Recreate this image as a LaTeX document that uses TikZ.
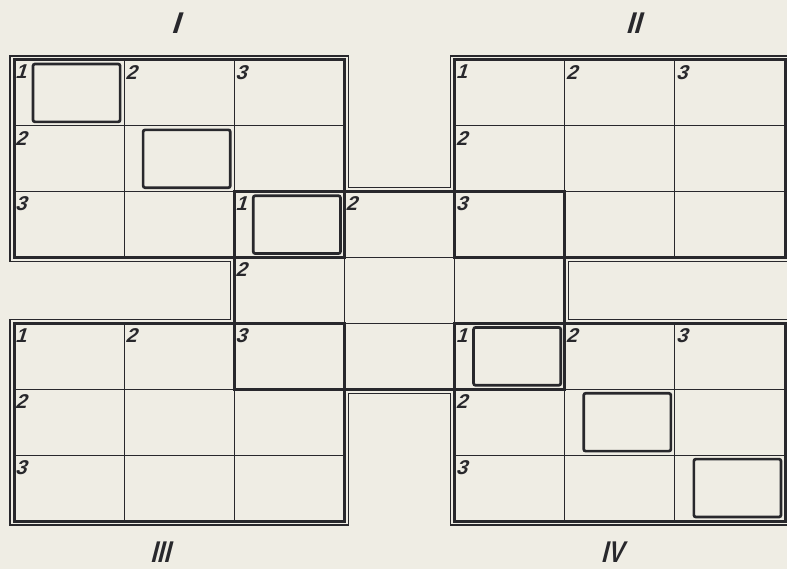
\documentclass[tikz,border=0pt]{standalone}
\usepackage{fontspec}
\setmainfont{Liberation Sans}
\newfontfamily\slantsans{Liberation Sans}[FakeSlant=0.32]
\usetikzlibrary{calc}

\definecolor{paper}{HTML}{EFEDE4}
\definecolor{ink}{HTML}{28282C}

\tikzset{
  cellline/.style   = {draw=ink, line width=0.9pt},
  blockframe/.style = {draw=ink, line width=3pt, line join=miter},
  outerline/.style  = {draw=ink, line width=1.1pt},
  markbox/.style    = {draw=ink, line width=2.7pt, rounded corners=2pt},
  digit/.style      = {anchor=north west, inner sep=0pt, text=ink,
                       font=\fontsize{20}{20}\selectfont\slantsans\bfseries},
  roman/.style      = {inner sep=0pt, text=ink,
                       font=\fontsize{30}{30}\selectfont\slantsans\bfseries}
}

\begin{document}
\begin{tikzpicture}[x=1pt, y=-1pt]

  % ── Paper ─────────────────────────────────────────────────────────────────
  \useasboundingbox (0,0) rectangle (787,569);
  \fill[paper] (0,0) rectangle (787,569);
  \clip (0,0) rectangle (787,569);

  % ── Thin outline round the five squares ───────────────────────────────────
  \draw[outerline] (10,56) -- (348.4,56) -- (348.4,187.7) -- (450.6,187.7)
    -- (450.6,56) -- (789,56) -- (789,261.6) -- (568.7,261.6) -- (568.7,319.4)
    -- (789,319.4) -- (789,525) -- (450.6,525) -- (450.6,393.3)
    -- (348.4,393.3) -- (348.4,525) -- (10,525) -- (10,319.4)
    -- (230.3,319.4) -- (230.3,261.6) -- (10,261.6) -- cycle;

  \begin{scope}[shift={(14,60)}, x=110.143pt, y=-65.857pt]

    % ── Cell lines (I, II, III, IV and the middle square) ──────────────────
    \foreach \bx/\by in {0/0, 4/0, 0/4, 4/4, 2/2} {
      \foreach \k in {1,2} {
        \draw[cellline] (\bx+\k,\by) -- (\bx+\k,\by+3);
        \draw[cellline] (\bx,\by+\k) -- (\bx+3,\by+\k);
      }
    }

    % ── Square frames ──────────────────────────────────────────────────────
    \foreach \bx/\by in {0/0, 4/0, 0/4, 4/4, 2/2}
      \draw[blockframe] (\bx,\by) rectangle (\bx+3,\by+3);

    % ── Marked cells on the diagonals ──────────────────────────────────────
    \foreach \i in {0,1,2,4,5,6}
      \draw[markbox] ($(\i,\i)+(19pt,-4pt)$) rectangle ($(\i+1,\i+1)+(-4pt,4pt)$);

    % ── Row and column numbers ─────────────────────────────────────────────
    \foreach \i/\j/\t in {0/0/1, 1/0/2, 2/0/3, 0/1/2, 0/2/3,
                          4/0/1, 5/0/2, 6/0/3, 4/1/2, 4/2/3,
                          2/2/1, 3/2/2, 2/3/2, 2/4/3,
                          0/4/1, 1/4/2, 0/5/2, 0/6/3,
                          4/4/1, 5/4/2, 6/4/3, 4/5/2, 4/6/3}
      \node[digit] (d-\i-\j) at ($(\i,\j)+(1pt,-5pt)$) {\t};

  \end{scope}

  % ── Square names ──────────────────────────────────────────────────────────
  \node[roman] (nI)   at (175,23)  {I};
  \node[roman] (nII)  at (633,23)  {\scalebox{0.9}[1]{II}};
  \node[roman] (nIII) at (160,552) {\scalebox{0.8}[1]{III}};
  \node[roman] (nIV)  at (612,552) {\scalebox{0.78}[1]{IV}};

\end{tikzpicture}
\end{document}
